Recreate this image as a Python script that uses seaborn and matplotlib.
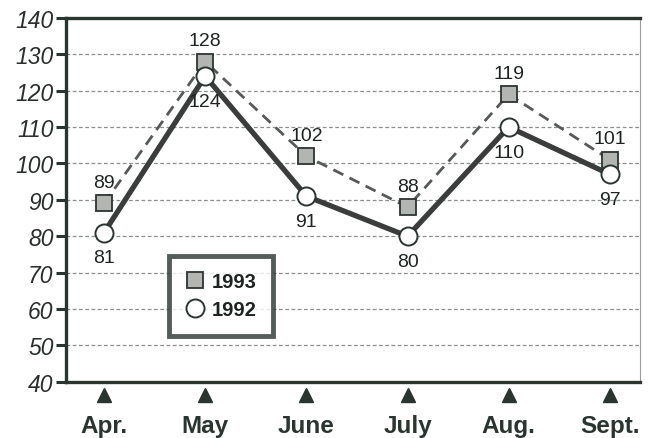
import matplotlib
matplotlib.use('Agg')
import matplotlib.pyplot as plt
import matplotlib.transforms as mtransforms
import seaborn as sns
import numpy as np

# Data
months = ['Apr.', 'May', 'June', 'July', 'Aug.', 'Sept.']
sales_1993 = [89, 128, 102, 88, 119, 101]
sales_1992 = [81, 124, 91, 80, 110, 97]
y_ticks = [40, 50, 60, 70, 80, 90, 100, 110, 120, 130, 140]

dark = '#2b3530'
sns.set_style('white')
plt.rcParams['font.family'] = ['Liberation Sans', 'DejaVu Sans']

fig = plt.figure(figsize=(6.48, 4.39), dpi=100)
ax = fig.add_axes([0.102, 0.128, 0.886, 0.829])

x = np.arange(len(months))

# 1993 series: dashed line with grey squares
sns.lineplot(x=x, y=sales_1993, ax=ax, color='#555a57', linewidth=2.0,
             linestyle=(0, (4, 2.5)), marker='s', markersize=11,
             markerfacecolor='#b3b5b3', markeredgecolor=dark, markeredgewidth=1.3,
             zorder=3, label='1993')
# 1992 series: thick solid line with white circles
sns.lineplot(x=x, y=sales_1992, ax=ax, color='#3a3d3b', linewidth=3.8,
             marker='o', markersize=13, markerfacecolor='white',
             markeredgecolor=dark, markeredgewidth=1.4, zorder=4, label='1992')

for xi, v in zip(x, sales_1993):
    ax.annotate(str(v), (xi, v), xytext=(0, 15), textcoords='offset points',
                ha='center', va='center', fontsize=14, color='#1e2421', zorder=5)
for xi, v in zip(x, sales_1992):
    ax.annotate(str(v), (xi, v), xytext=(0, -18), textcoords='offset points',
                ha='center', va='center', fontsize=14, color='#1e2421', zorder=5)

ax.set_xlim(-0.375, 5.3)
ax.set_ylim(40, 140)
ax.set_yticks(y_ticks)
ax.set_yticklabels([str(t) for t in y_ticks], fontsize=16.5, fontstyle='italic',
                   color='#2a2f2c')
ax.yaxis.grid(True, linestyle=(0, (3, 2)), color='#8a8f8c', linewidth=0.9)
ax.xaxis.grid(False)
ax.tick_params(axis='y', left=True, length=7, width=2.2, color=dark, pad=2)

# month labels with triangle markers under the axis
ax.set_xticks(x)
ax.set_xticklabels(months, fontsize=17.5, fontweight='bold', color='#2b3530')
ax.tick_params(axis='x', bottom=False, pad=20)
trans = mtransforms.blended_transform_factory(ax.transData, ax.transAxes)
ax.plot(x, [-0.035] * len(x), linestyle='none', marker='^', markersize=10,
        color=dark, transform=trans, clip_on=False)

for side in ['left', 'bottom', 'top']:
    ax.spines[side].set_linewidth(2.4)
    ax.spines[side].set_color(dark)
ax.spines['right'].set_linewidth(0.8)
ax.spines['right'].set_color('#9a9e9b')

leg = ax.legend(loc='upper left', bbox_to_anchor=(0.18, 0.345), frameon=True,
                fancybox=False, handlelength=0.9, handletextpad=0.4,
                borderpad=0.8, labelspacing=0.45, borderaxespad=0,
                prop={'weight': 'bold', 'size': 14.5})
# markers only in legend
for h in leg.legend_handles:
    h.set_linestyle('none')
for t in leg.get_texts():
    t.set_color('#1e2421')
leg.get_frame().set_edgecolor(dark)
leg.get_frame().set_linewidth(3.5)
leg.set_zorder(6)

fig.savefig('out.png', dpi=100)
